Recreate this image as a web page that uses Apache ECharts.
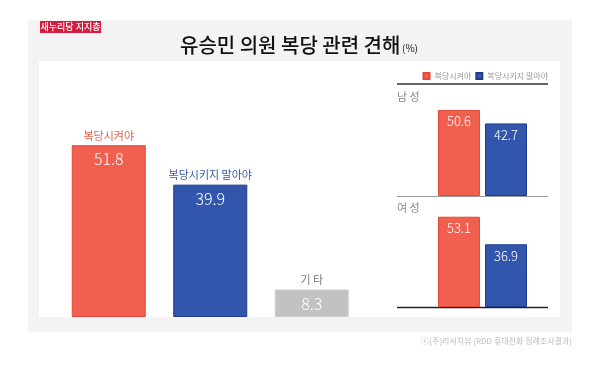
<!DOCTYPE html>
<html><head><meta charset="utf-8">
<script src="https://cdn.jsdelivr.net/npm/echarts@6/dist/echarts.min.js"></script>
<style>html,body{margin:0;padding:0;background:#fff}#c{width:600px;height:367px}</style>
</head><body><div id="c"></div>
<script>
const mainCats = ['복당시켜야', '복당시키지 말아야', '기 타'];
const mainVals = [51.8, 39.9, 8.3];
const groups = ['남 성', '여 성'];
const favorVals = [50.6, 53.1];
const againstVals = [42.7, 36.9];
const seriesNames = ['복당시켜야', '복당시키지 말아야'];

const F = "'Noto Sans CJK KR','Noto Sans',sans-serif";
const RED = '#f15f4f', BLUE = '#3156ab', GRAY = '#c2c2c2';
const mainFill = [RED, BLUE, GRAY];
const mainBorder = ['#e2473a', '#1e3a8c', '#cfcfcf'];
const catColor = ['#e8604f', '#3a58a4', '#777777'];

const chart = echarts.init(document.getElementById('c'), null, {renderer: 'canvas'});

const grids = [
  {left: 58, width: 304.5, top: 118, height: 199},
  {left: 397, width: 171, top: 94, height: 102},
  {left: 397, width: 171, top: 205, height: 102}
];
const xAxes = [
  {gridIndex: 0, type: 'category', data: mainCats, show: false},
  {gridIndex: 1, type: 'category', data: [groups[0]], show: false},
  {gridIndex: 2, type: 'category', data: [groups[1]], show: false}
];
const yAxes = [0, 1, 2].map(i => ({gridIndex: i, type: 'value', min: 0, max: 60, show: false}));

const series = [
  {
    type: 'bar', xAxisIndex: 0, yAxisIndex: 0, barWidth: 74,
    data: mainVals.map((v, i) => ({value: v, itemStyle: {color: mainFill[i], borderColor: mainBorder[i], borderWidth: 1}})),
    label: {show: true, position: 'insideTop', distance: 6, color: '#fff', fontFamily: F, fontSize: 16, fontWeight: 300},
    silent: true
  },
  {
    type: 'bar', xAxisIndex: 0, yAxisIndex: 0, barWidth: 74, barGap: '-100%',
    data: mainVals.map((v, i) => ({value: v, label: {color: catColor[i]}})),
    itemStyle: {color: 'rgba(0,0,0,0)'},
    label: {show: true, position: 'top', distance: 4, fontFamily: F, fontSize: 11,
      formatter: p => mainCats[p.dataIndex]},
    silent: true
  }
];
[1, 2].forEach((g, gi) => {
  series.push({
    name: seriesNames[0], type: 'bar', xAxisIndex: g, yAxisIndex: g, barWidth: 42, barGap: '12%',
    data: [favorVals[gi]],
    itemStyle: {color: RED, borderColor: '#e2473a', borderWidth: 1},
    label: {show: true, position: 'insideTop', distance: 5, color: '#fff', fontFamily: F, fontSize: 13, fontWeight: 300},
    silent: true
  });
  series.push({
    name: seriesNames[1], type: 'bar', xAxisIndex: g, yAxisIndex: g, barWidth: 42, barGap: '12%',
    data: [againstVals[gi]],
    itemStyle: {color: BLUE, borderColor: '#1e3a8c', borderWidth: 1},
    label: {show: true, position: 'insideTop', distance: 5, color: '#fff', fontFamily: F, fontSize: 13, fontWeight: 300},
    silent: true
  });
});

chart.setOption({
  animation: false,
  backgroundColor: '#fff',
  grid: grids, xAxis: xAxes, yAxis: yAxes, series: series,
  legend: {
    data: seriesNames, right: 50, top: 70, padding: [2, 2, 2, 2], itemWidth: 6, itemHeight: 6, itemGap: 4,
    icon: 'rect', selectedMode: false,
    textStyle: {fontFamily: F, fontSize: 8, color: '#999'}
  },
  graphic: [
    {type: 'rect', z: -10, shape: {x: 28, y: 20, width: 544, height: 312}, style: {fill: '#f3f3f3'}},
    {type: 'rect', z: -9, shape: {x: 39, y: 61, width: 521, height: 256}, style: {fill: '#ffffff'}},
    {type: 'rect', shape: {x: 40, y: 21, width: 61, height: 12}, style: {fill: '#d81b3c'}},
    {type: 'text', style: {x: 70.5, y: 27, text: '새누리당 지지층', fill: '#fff', font: '500 9px ' + F, textAlign: 'center', textVerticalAlign: 'middle'}},
    {type: 'text', style: {x: 180, y: 45, text: '유승민 의원 복당 관련 견해', fill: '#111', font: '500 20px ' + F, textAlign: 'left', textVerticalAlign: 'middle'}},
    {type: 'text', style: {x: 402, y: 48, text: '(%)', fill: '#111', font: '10px ' + F, textAlign: 'left', textVerticalAlign: 'middle'}},
    {type: 'line', shape: {x1: 397, y1: 84, x2: 548, y2: 84}, style: {stroke: '#333', lineWidth: 1.5}},
    {type: 'text', style: {x: 397, y: 97, text: groups[0], fill: '#888', font: '11px ' + F, textVerticalAlign: 'middle'}},
    {type: 'line', shape: {x1: 397, y1: 196.5, x2: 548, y2: 196.5}, style: {stroke: '#999', lineWidth: 1.2}},
    {type: 'text', style: {x: 397, y: 208, text: groups[1], fill: '#888', font: '11px ' + F, textVerticalAlign: 'middle'}},
    {type: 'line', shape: {x1: 397, y1: 307.5, x2: 548, y2: 307.5}, style: {stroke: '#222', lineWidth: 1.5}},
    {type: 'text', style: {x: 572, y: 341, text: 'ⓒ(주)리서치뷰 (RDD 휴대전화 정례조사결과)', fill: '#bbb', font: '8px ' + F, textAlign: 'right', textVerticalAlign: 'middle'}}
  ]
});
</script></body></html>
